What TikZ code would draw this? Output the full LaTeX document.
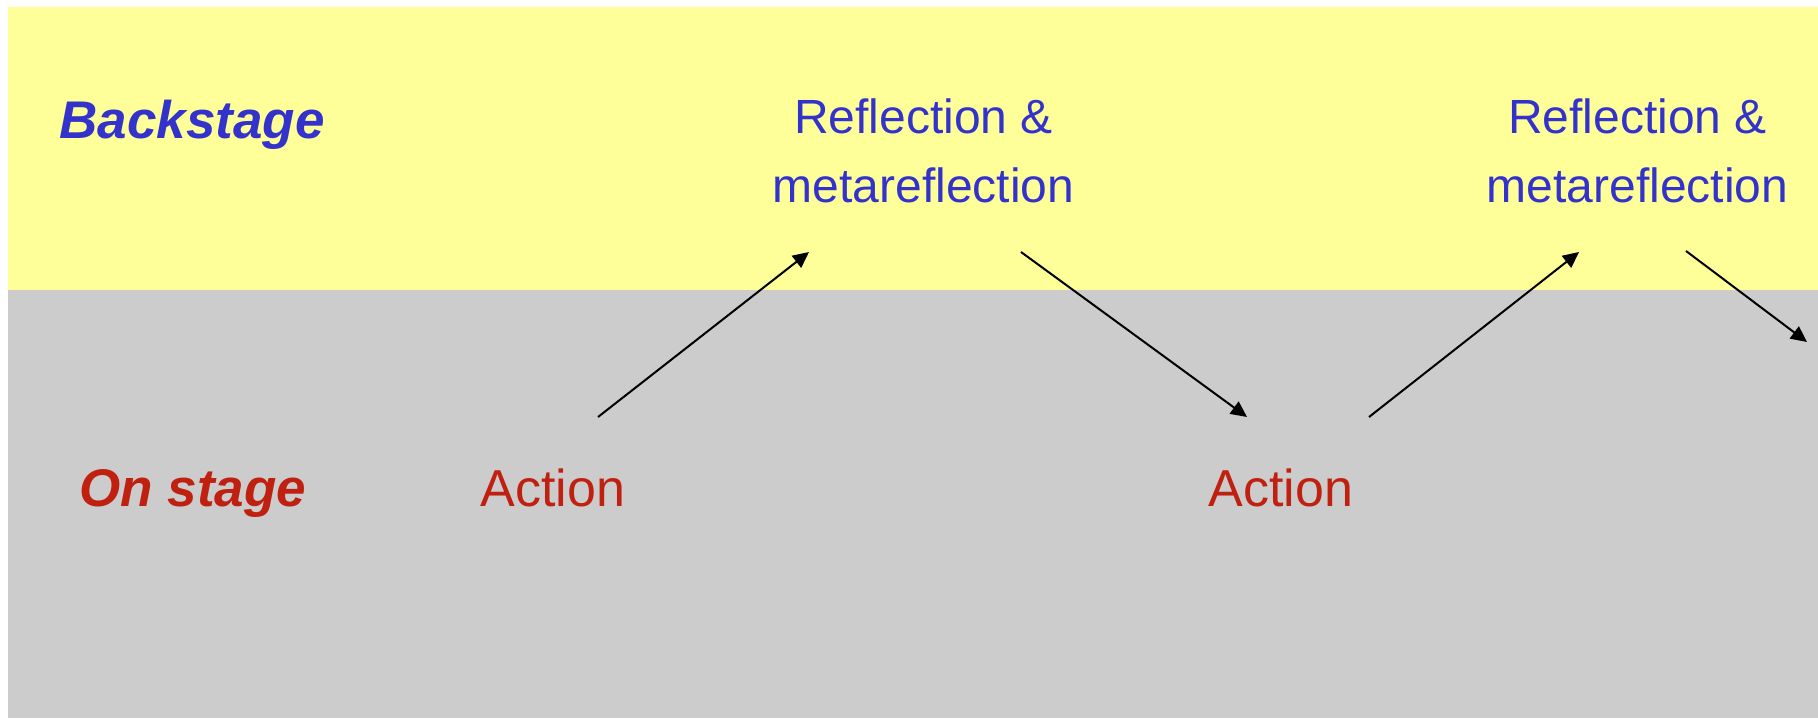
\documentclass[tikz,border=0pt]{standalone}
\usepackage{fontspec}
\setmainfont{Liberation Sans}
\usetikzlibrary{arrows.meta}
\definecolor{bandyellow}{HTML}{FFFF99}
\definecolor{bandgray}{HTML}{CCCCCC}
\definecolor{txtblue}{HTML}{3333CC}
\definecolor{txtred}{HTML}{C02010}
\tikzset{
  rowlabel/.style={inner sep=0pt, anchor=base west, font=\fontsize{26.5pt}{32pt}\selectfont\bfseries\itshape},
  refl/.style={inner sep=0pt, anchor=base, align=center, text=txtblue, font=\fontsize{24pt}{34.5pt}\selectfont},
  act/.style={inner sep=0pt, anchor=base west, text=txtred, font=\fontsize{26pt}{30pt}\selectfont},
  flow/.style={line width=1pt, -{Triangle[length=8pt,width=7.5pt]}}
}
\begin{document}
\begin{tikzpicture}[x=0.5pt,y=-0.5pt]
\useasboundingbox (0,0) rectangle (1818,718);
\fill[white] (0,0) rectangle (1818,718);
\fill[bandyellow] (8,7) rectangle (1818,290);
\fill[bandgray] (8,290) rectangle (1818,718);

\node[rowlabel, text=txtblue] (back) at (59,138) {Backstage};
\node[rowlabel, text=txtred] (on) at (79,506) {On stage};

\node[refl] (r1) at (923.5,202) {Reflection \&\\metareflection};
\node[refl] (r2) at (1637.5,202) {Reflection \&\\metareflection};

\node[act] (a1) at (480,506) {Action};
\node[act] (a2) at (1208,506) {Action};

\coordinate (a1out) at (598,417);
\coordinate (r1in) at (809,252);
\coordinate (r1out) at (1021,252);
\coordinate (a2in) at (1247,417);
\coordinate (a2out) at (1369,417);
\coordinate (r2in) at (1579,252);
\coordinate (r2out) at (1686,251);
\coordinate (next) at (1807,342);

\draw[flow] (a1out) -- (r1in);
\draw[flow] (r1out) -- (a2in);
\draw[flow] (a2out) -- (r2in);
\draw[flow] (r2out) -- (next);
\end{tikzpicture}
\end{document}
